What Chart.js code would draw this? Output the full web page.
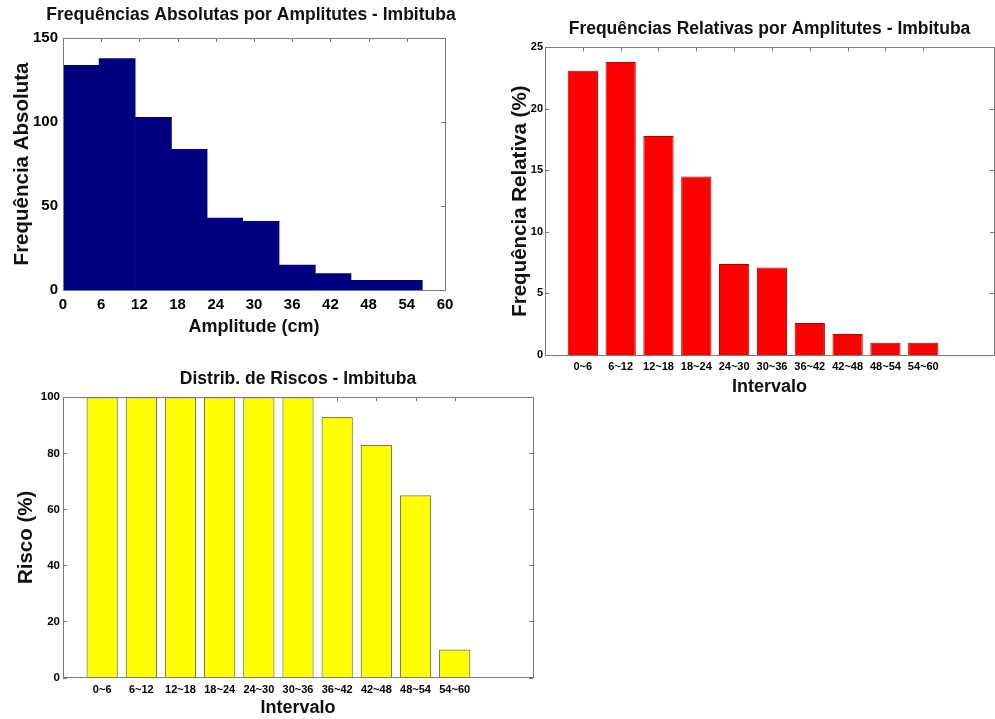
<!DOCTYPE html>
<html>
<head>
<meta charset="utf-8">
<title>Imbituba</title>
<script src="https://cdn.jsdelivr.net/npm/chart.js@4.4.0/dist/chart.umd.min.js"></script>
<style>
    body { margin: 0; background: #fff; width: 995px; height: 719px; overflow: hidden; position: relative; }
    canvas { position: absolute; }
</style>
</head>
<body>
<canvas id="absChart" width="502" height="340" style="left:0;top:0"></canvas>
<canvas id="relChart" width="495" height="400" style="left:500px;top:0"></canvas>
<canvas id="riskChart" width="540" height="359" style="left:0;top:360px"></canvas>
<script>
// Histogram (amplitude bins in cm)
const binCenters = [2.8, 8.5, 14.2, 19.8, 25.4, 31.1, 36.8, 42.4, 48.0, 53.6];
const absCounts = [134, 138, 103, 84, 43, 41, 15, 10, 6, 6];
const amplitudeTicks = [0, 6, 12, 18, 24, 30, 36, 42, 48, 54, 60];
const absTicks = [0, 50, 100, 150];

// Interval charts
const intervals = ['0~6', '6~12', '12~18', '18~24', '24~30', '30~36', '36~42', '42~48', '48~54', '54~60'];
const relFreq = [23.1, 23.8, 17.8, 14.5, 7.4, 7.1, 2.6, 1.7, 1.0, 1.0];
const relTicks = [0, 5, 10, 15, 20, 25];
const risk = [100, 100, 100, 100, 100, 100, 93, 83, 65, 10];
const riskTicks = [0, 20, 40, 60, 80, 100];

const FONT_TEXT = "'Liberation Sans', Arial, sans-serif";

function bold(size) {
    return { family: FONT_TEXT, size: size, weight: 'bold', lineHeight: 1.2 };
}

function fixedTicks(values) {
    return scale => { scale.ticks = values.map(v => ({ value: v })); };
}

// matlab style box with inward tick marks
const boxPlugin = {
    id: 'box',
    beforeDatasetsDraw(chart) {
        const { ctx, chartArea: a, scales: { x, y } } = chart;
        ctx.save();
        ctx.strokeStyle = '#7a7a7a';
        ctx.lineWidth = 1;
        ctx.beginPath();
        x.ticks.forEach(t => {
            const px = Math.round(x.getPixelForValue(t.value)) + 0.5;
            ctx.moveTo(px, a.top); ctx.lineTo(px, a.top + 4);
            ctx.moveTo(px, a.bottom); ctx.lineTo(px, a.bottom - 4);
        });
        y.ticks.forEach(t => {
            const py = Math.round(y.getPixelForValue(t.value)) + 0.5;
            ctx.moveTo(a.left, py); ctx.lineTo(a.left + 4, py);
            ctx.moveTo(a.right, py); ctx.lineTo(a.right - 4, py);
        });
        ctx.stroke();
        ctx.restore();
    },
    afterDatasetsDraw(chart) {
        const { ctx, chartArea: a } = chart;
        ctx.save();
        ctx.strokeStyle = '#7a7a7a';
        ctx.lineWidth = 1;
        ctx.strokeRect(Math.round(a.left) + 0.5, Math.round(a.top) + 0.5,
            Math.round(a.right - a.left), Math.round(a.bottom - a.top));
        ctx.restore();
    }
};

// the first title is wider than its plot, so let it use the whole canvas width
const wideTitle = {
    id: 'wideTitle',
    afterLayout(chart) {
        const t = chart.titleBlock;
        t.left = 0;
        t.right = chart.width;
        t.width = chart.width;
    }
};

function buildOptions(cfg) {
    return {
        responsive: false,
        animation: false,
        layout: { padding: { left: 0, right: cfg.padRight, top: 0, bottom: 0 } },
        plugins: {
            legend: { display: false },
            tooltip: { enabled: false },
            title: {
                display: true,
                text: cfg.title,
                color: '#111',
                fullSize: false,
                font: bold(17.5),
                padding: { top: cfg.titleTop, bottom: cfg.titleBottom }
            }
        },
        scales: {
            x: {
                type: 'linear',
                offset: false,
                min: cfg.xMin,
                max: cfg.xMax,
                grid: { display: false, drawTicks: false },
                border: { display: false },
                afterBuildTicks: cfg.xTicks,
                afterFit: s => { s.height = cfg.xHeight; },
                ticks: {
                    color: '#000',
                    font: bold(cfg.xTickSize),
                    padding: cfg.xTickPad,
                    autoSkip: false,
                    maxRotation: 0,
                    callback: cfg.xLabel
                },
                title: {
                    display: true,
                    text: cfg.xTitle,
                    color: '#111',
                    font: bold(18),
                    padding: { top: 0, bottom: cfg.xTitlePad }
                }
            },
            y: {
                min: cfg.yMin,
                max: cfg.yMax,
                grid: { display: false, drawTicks: false },
                border: { display: false },
                afterBuildTicks: cfg.yTicks,
                afterFit: s => { s.width = cfg.yWidth; },
                ticks: {
                    color: '#000',
                    font: bold(cfg.yTickSize),
                    padding: cfg.yTickPad
                },
                title: {
                    display: true,
                    text: cfg.yTitle,
                    color: '#111',
                    font: bold(20.5),
                    padding: { top: cfg.yTitlePad, bottom: 0 }
                }
            }
        }
    };
}

new Chart(document.getElementById('absChart'), {
    type: 'bar',
    data: {
        datasets: [{
            data: absCounts.map((v, i) => ({ x: binCenters[i], y: v })),
            backgroundColor: '#000080',
            borderWidth: 0,
            barPercentage: 1.03,
            categoryPercentage: 1
        }]
    },
    options: buildOptions({
        title: 'Frequências Absolutas por Amplitutes - Imbituba',
        titleTop: 4.5, titleBottom: 12.5, padRight: 57,
        xMin: 0, xMax: 60, xTicks: fixedTicks(amplitudeTicks), xHeight: 50,
        xTickSize: 15, xTickPad: 6,
        xTitle: 'Amplitude (cm)', xTitlePad: 2.2,
        yMin: 0, yMax: 150, yTicks: fixedTicks(absTicks), yWidth: 63,
        yTickSize: 15, yTickPad: 5,
        yTitle: 'Frequência Absoluta', yTitlePad: 10.5
    }),
    plugins: [boxPlugin, wideTitle]
});

function intervalTicks(scale) {
    scale.ticks = intervals.map((_, i) => ({ value: i + 1 }));
}

new Chart(document.getElementById('relChart'), {
    type: 'bar',
    data: {
        datasets: [{
            data: relFreq.map((v, i) => ({ x: i + 1, y: v })),
            backgroundColor: '#ff0000',
            borderColor: '#b00000',
            borderWidth: 1,
            barPercentage: 0.8,
            categoryPercentage: 1
        }]
    },
    options: buildOptions({
        title: 'Frequências Relativas por Amplitutes - Imbituba',
        titleTop: 18.5, titleBottom: 7.8, padRight: 1,
        xMin: 0, xMax: 11.87, xTicks: intervalTicks, xHeight: 45,
        xTickSize: 11, xTickPad: 5.4, xLabel: v => intervals[v - 1],
        xTitle: 'Intervalo', xTitlePad: 2.5,
        yMin: 0, yMax: 25, yTicks: fixedTicks(relTicks), yWidth: 45,
        yTickSize: 11, yTickPad: 2,
        yTitle: 'Frequência Relativa (%)', yTitlePad: 7.7
    }),
    plugins: [boxPlugin]
});

new Chart(document.getElementById('riskChart'), {
    type: 'bar',
    data: {
        datasets: [{
            data: risk.map((v, i) => ({ x: i + 1, y: v })),
            backgroundColor: '#ffff00',
            borderColor: '#80803a',
            borderWidth: 1.2,
            barPercentage: 0.8,
            categoryPercentage: 1
        }]
    },
    options: buildOptions({
        title: 'Distrib. de Riscos - Imbituba',
        titleTop: 8.8, titleBottom: 7.5, padRight: 7,
        xMin: 0, xMax: 12, xTicks: intervalTicks, xHeight: 41.5,
        xTickSize: 11, xTickPad: 5.9, xLabel: v => intervals[v - 1],
        xTitle: 'Intervalo', xTitlePad: 0,
        yMin: 0, yMax: 100, yTicks: fixedTicks(riskTicks), yWidth: 63,
        yTickSize: 11.5, yTickPad: 3,
        yTitle: 'Risco (%)', yTitlePad: 14.4
    }),
    plugins: [boxPlugin]
});
</script>
</body>
</html>
